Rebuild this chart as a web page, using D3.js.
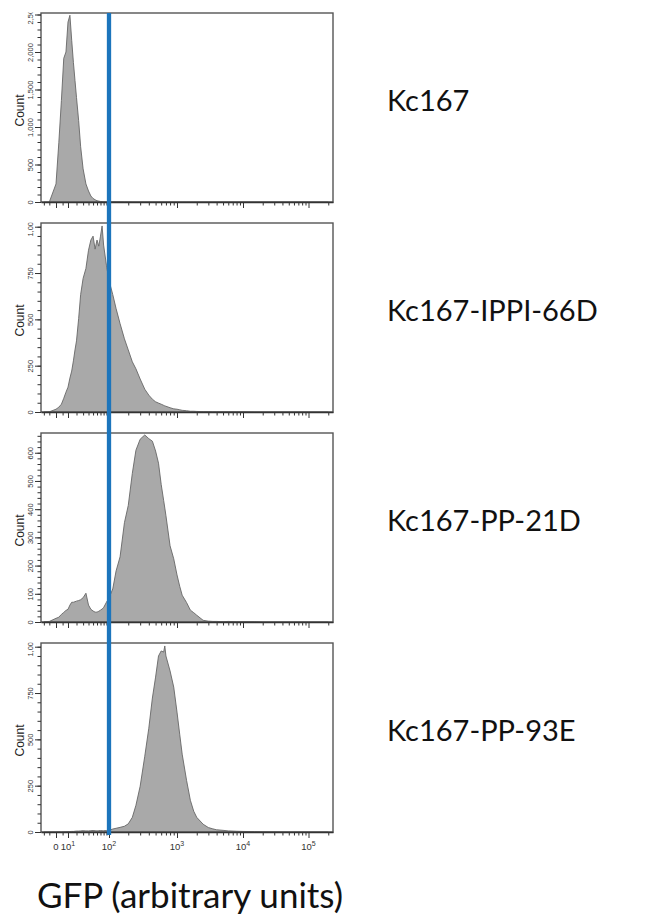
<!DOCTYPE html>
<html>
<head>
<meta charset="utf-8">
<script src="https://cdnjs.cloudflare.com/ajax/libs/d3/7.8.5/d3.min.js"></script>
<style>
  body { margin: 0; background: #fff; }
  text { font-family: "Liberation Sans", Arial, sans-serif; }
</style>
</head>
<body>
<script>
// gfp channel values the histogram heights were read at
var gfpBins = [-10, -5, 0, 2, 4, 6, 8, 10, 12, 14,
  16, 18, 20, 23, 26, 30, 35, 40, 45, 50,
  55, 60, 65, 70, 75, 80, 90, 100, 115, 130,
  150, 175, 200, 230, 260, 300, 350, 400, 450, 500,
  550, 600, 650, 675, 700, 800, 900, 1000, 1100, 1200,
  1400, 1600, 1800, 2000, 2500, 3000, 3500, 4000, 5000, 6000,
  8000, 10000, 15000, 20000, 50000, 100000, 200000];

var countsKc167 = [0, 0, 241, 790, 1353, 1916, 2000, 2400, 2490, 2157,
  1862, 1620, 1393, 1085, 737, 442, 241, 147, 80, 47,
  30, 17, 12, 7, 5, 3, 2, 2, 4, 3,
  2, 1, 1, 0, 0, 0, 0, 0, 0, 0,
  0, 0, 0, 0, 0, 0, 0, 0, 0, 0,
  0, 0, 0, 0, 0, 0, 0, 0, 0, 0,
  0, 0, 0, 0, 0, 0, 0];

var countsIPPI66D = [0, 1, 15, 26, 42, 74, 107, 134, 183, 221,
  276, 335, 384, 504, 634, 721, 775, 873, 928, 949,
  879, 928, 895, 949, 1004, 901, 792, 710, 634, 558,
  477, 395, 335, 271, 233, 178, 123, 91, 69, 55,
  48, 42, 36, 33, 31, 23, 17, 15, 12, 9,
  7, 4, 4, 3, 2, 2, 1, 1, 1, 1,
  1, 1, 0, 0, 0, 0, 0];

var countsPP21D = [1, 2, 13, 17, 27, 34, 41, 45, 60, 70,
  70, 72, 74, 76, 79, 86, 102, 60, 45, 39,
  35, 35, 38, 42, 46, 51, 70, 85, 117, 181,
  231, 352, 413, 527, 609, 648, 663, 650, 641, 606,
  563, 488, 431, 404, 377, 270, 224, 167, 127, 95,
  69, 42, 33, 24, 6, 3, 2, 2, 1, 2,
  1, 1, 1, 0, 0, 0, 0];

var countsPP93E = [0, 0, 0, 1, 0, 1, 1, 2, 2, 3,
  3, 4, 5, 5, 6, 7, 6, 6, 7, 8,
  7, 6, 7, 8, 7, 7, 8, 9, 16, 20,
  25, 31, 44, 79, 144, 247, 409, 560, 723, 836,
  950, 977, 971, 1004, 950, 869, 782, 647, 528, 420,
  279, 171, 112, 79, 42, 24, 17, 12, 9, 6,
  4, 3, 2, 1, 0, 0, 0];

var sampleNames = ["Kc167", "Kc167-IPPI-66D", "Kc167-PP-21D", "Kc167-PP-93E"];
var sampleCounts = [countsKc167, countsIPPI66D, countsPP21D, countsPP93E];
var countMax = [2520, 1020, 670, 1020];
var countTicks = [
  [0, 500, 1000, 1500, 2000, 2500],
  [0, 250, 500, 750, 1000],
  [0, 100, 200, 300, 400, 500, 600],
  [0, 250, 500, 750, 1000]
];
var countMinorStep = [100, 50, 20, 50];

var xMajorTicks = [0, 10, 100, 1000, 10000, 100000];
var xTickBase = ["0", "10", "10", "10", "10", "10"];
var xTickPower = ["", "1", "2", "3", "4", "5"];
var xMinorTicks = [-10, -5, 5, 20, 30, 40, 50, 60, 70, 80, 90,
  200, 300, 400, 500, 600, 700, 800, 900,
  2000, 3000, 4000, 5000, 6000, 7000, 8000, 9000,
  20000, 30000, 40000, 50000, 60000, 70000, 80000, 90000, 200000];

var gateValue = 100;

var W = 659, H = 916;
var frameLeft = 41, frameRight = 333;
var panelTop = 13, panelHeight = 189, panelGap = 21;

var svg = d3.select("body").append("svg")
  .attr("width", W)
  .attr("height", H);

// flowjo style biexponential axis, approximated by a piecewise symlog
var x = d3.scaleSymlog().constant(20)
  .domain([-13, 0, 10, 100, 1000, 10000, 100000, 236000])
  .range([frameLeft, 56, 68, 109, 177, 243, 308.5, frameRight]);

sampleNames.forEach(function(name, i){
  var top = panelTop + i * (panelHeight + panelGap);
  var bottom = top + panelHeight;
  var y = d3.scaleLinear().domain([0, countMax[i]]).range([bottom, top]);

  var pts = gfpBins.map(function(b, j){ return [b, sampleCounts[i][j]]; });
  var g = svg.append("g");

  g.append("path")
    .datum(pts)
    .attr("d", d3.area()
      .x(function(d){ return x(d[0]); })
      .y0(bottom)
      .y1(function(d){ return y(d[1]); }))
    .style("fill", "#a9a9a9");

  g.append("path")
    .datum(pts)
    .attr("d", d3.line()
      .x(function(d){ return x(d[0]); })
      .y(function(d){ return y(d[1]); }))
    .style("fill", "none")
    .style("stroke", "#666")
    .style("stroke-width", 0.9);

  g.append("rect")
    .attr("x", frameLeft).attr("y", top)
    .attr("width", frameRight - frameLeft).attr("height", panelHeight)
    .style("fill", "none")
    .style("stroke", "#555")
    .style("stroke-width", 1.4);

  // y axis, minor then major ticks
  g.append("g")
    .attr("transform", "translate(" + frameLeft + ",0)")
    .call(d3.axisLeft(y).tickValues(d3.range(0, countMax[i], countMinorStep[i])).tickSize(3.5).tickFormat("").tickSizeOuter(0))
    .call(function(a){ a.select(".domain").remove(); })
    .selectAll("line").style("stroke", "#333");

  // labels are cut at the frame top like in flowjo; clip box is in the axis group's coords
  var clipId = "ylab" + i;
  svg.append("clipPath").attr("id", clipId)
    .append("rect").attr("x", -frameLeft).attr("y", top - 0.5).attr("width", frameLeft).attr("height", panelHeight + 10);

  var yAx = g.append("g")
    .attr("transform", "translate(" + frameLeft + ",0)")
    .attr("clip-path", "url(#" + clipId + ")")
    .call(d3.axisLeft(y).tickValues(countTicks[i]).tickSize(6).tickFormat(d3.format(",")).tickSizeOuter(0));
  yAx.select(".domain").remove();
  yAx.selectAll("line").style("stroke", "#333");
  yAx.selectAll("text")
    .attr("x", 0).attr("y", -8.5).attr("dy", 0)
    .attr("transform", "rotate(-90)")
    .attr("text-anchor", "middle")
    .style("font-size", "7.5px")
    .style("fill", "#333");

  g.append("text")
    .attr("transform", "translate(24," + (top + panelHeight / 2 + 3) + ") rotate(-90)")
    .attr("text-anchor", "middle")
    .style("font-size", "12px")
    .style("fill", "#222")
    .text("Count");

  // x axis ticks under every panel
  var xg = g.append("g").attr("transform", "translate(0," + bottom + ")");
  xg.call(d3.axisBottom(x).tickValues(xMinorTicks).tickSize(3.5).tickFormat("").tickSizeOuter(0))
    .call(function(a){ a.select(".domain").remove(); })
    .selectAll("line").style("stroke", "#333");
  var xg2 = g.append("g").attr("transform", "translate(0," + bottom + ")");
  xg2.call(d3.axisBottom(x).tickValues(xMajorTicks).tickSize(6).tickFormat("").tickSizeOuter(0));
  xg2.select(".domain").style("stroke", "#333").style("stroke-width", 1.4);
  xg2.selectAll("line").style("stroke", "#333");

  if (i === sampleNames.length - 1) {
    var lab = g.selectAll(".xlab")
      .data(xMajorTicks)
      .enter().append("text")
      .attr("class", "xlab")
      .attr("x", function(d){ return x(d); })
      .attr("y", bottom + 18)
      .attr("text-anchor", "middle")
      .style("font-size", "9.5px")
      .style("fill", "#333");
    lab.append("tspan").text(function(d, k){ return xTickBase[k]; });
    lab.append("tspan").attr("dy", -4).style("font-size", "7px")
      .text(function(d, k){ return xTickPower[k]; });
  }

  svg.append("text")
    .attr("x", 387)
    .attr("y", top + 98)
    .style("font-family", "Lato, 'Open Sans', sans-serif")
    .style("font-size", "29px")
    .style("fill", "#111")
    .text(name);
});

// gate line at 10^2
svg.append("line")
  .attr("x1", x(gateValue)).attr("x2", x(gateValue))
  .attr("y1", panelTop)
  .attr("y2", panelTop + 3 * (panelHeight + panelGap) + panelHeight + 3)
  .style("stroke", "#1c75bc")
  .style("stroke-width", 4.3);

svg.append("text")
  .attr("x", 190)
  .attr("y", 908)
  .attr("text-anchor", "middle")
  .style("font-family", "Lato, 'Open Sans', sans-serif")
  .style("font-size", "35px")
  .style("fill", "#111")
  .text("GFP (arbitrary units)");
</script>
</body>
</html>
